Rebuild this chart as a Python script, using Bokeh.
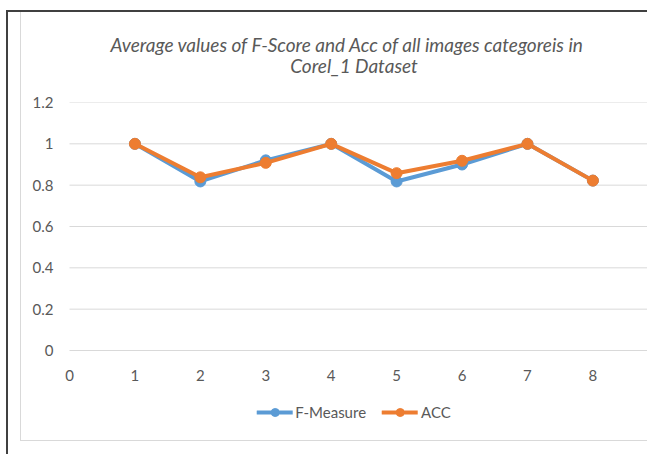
from bokeh.plotting import figure
from bokeh.layouts import column
from bokeh.models import FixedTicker, Legend, LegendItem, Range1d, Title, ColumnDataSource
from bokeh.core.properties import value
from bokeh.embed import file_html
from bokeh.resources import INLINE

x_vals = [1, 2, 3, 4, 5, 6, 7, 8]
f_measure = [1.0, 0.818, 0.92, 1.0, 0.818, 0.90, 1.0, 0.822]
acc = [1.0, 0.838, 0.908, 1.0, 0.858, 0.918, 1.0, 0.822]
x_ticks = [0, 1, 2, 3, 4, 5, 6, 7, 8]
x_tick_labels = ["0", "1", "2", "3", "4", "5", "6", "7", "8"]
y_ticks = [0, 0.2, 0.4, 0.6, 0.8, 1.0, 1.2]
y_tick_labels = ["0", "0.2", "0.4", "0.6", "0.8", "1", "1.2"]
title_lines = ["Average  values of  F-Score and Acc  of all images categoreis in", "Corel_1 Dataset"]

FONT = "Lato"
GRAY = "#595959"
BLUE = "#5B9BD5"
ORANGE = "#ED7D31"
X_END = 8.85

p = figure(width=627, height=429, output_backend="svg", toolbar_location=None,
           x_range=Range1d(-0.153, X_END), y_range=Range1d(-0.4403, 1.2),
           x_axis_location=None,
           min_border_left=38, min_border_right=0, min_border_top=90, min_border_bottom=0,
           styles={"margin-left": "12px", "border-left": "1px solid #D9D9D9",
                   "border-bottom": "1px solid #D9D9D9"})
p.title = None
for i, line in enumerate(reversed(title_lines)):
    t = Title(text=line, align="center", text_font=FONT, text_font_style="italic",
              text_font_size="19px", text_color=GRAY, standoff=(52 if i == 0 else -60))
    p.add_layout(t, "above")

p.outline_line_color = None
p.xgrid.grid_line_color = None
p.ygrid.grid_line_color = None

# horizontal gridlines starting at x = 0
p.segment(x0=[x_ticks[0]] * len(y_ticks), x1=[X_END] * len(y_ticks), y0=y_ticks, y1=y_ticks,
          line_color="#D9D9D9", line_width=1)

p.yaxis.ticker = FixedTicker(ticks=y_ticks)
p.yaxis.major_label_overrides = {t: l for t, l in zip(y_ticks, y_tick_labels)}
ax = p.yaxis[0]
ax.axis_line_color = None
ax.major_tick_line_color = None
ax.minor_tick_line_color = None
ax.major_tick_out = 0
ax.major_label_text_font = FONT
ax.major_label_text_font_size = "15px"
ax.major_label_text_color = GRAY
ax.major_label_standoff = 6

# x tick labels along the zero line
xsrc = ColumnDataSource(dict(x=x_ticks, y=[0] * len(x_ticks), t=x_tick_labels))
p.text(x="x", y="y", text="t", source=xsrc, y_offset=25, text_align="center",
       text_baseline="middle", text_font=value(FONT), text_font_size="15px", text_color=GRAY)

l1 = p.line(x_vals, f_measure, line_color=BLUE, line_width=4, line_join="round", line_cap="round")
s1 = p.scatter(x_vals, f_measure, marker="circle", size=11, fill_color=BLUE, line_color=BLUE)
l2 = p.line(x_vals, acc, line_color=ORANGE, line_width=4, line_join="round", line_cap="round")
s2 = p.scatter(x_vals, acc, marker="circle", size=11, fill_color=ORANGE, line_color=ORANGE)

legend = Legend(items=[LegendItem(label="F-Measure", renderers=[l1, s1]),
                       LegendItem(label="ACC", renderers=[l2, s2])],
                orientation="horizontal", location="bottom_center",
                label_text_font=FONT, label_text_font_size="15px", label_text_color=GRAY,
                glyph_width=36, glyph_height=20, spacing=16, border_line_color=None,
                background_fill_alpha=0, margin=19, padding=0, label_standoff=3)
p.add_layout(legend, "center")

layout = column(p, styles={"margin-left": "6px", "margin-top": "10px", "padding-bottom": "14px",
                           "border-left": "2px solid #404040", "border-top": "2px solid #404040"})

open("out.html", "w").write(file_html(layout, INLINE))
